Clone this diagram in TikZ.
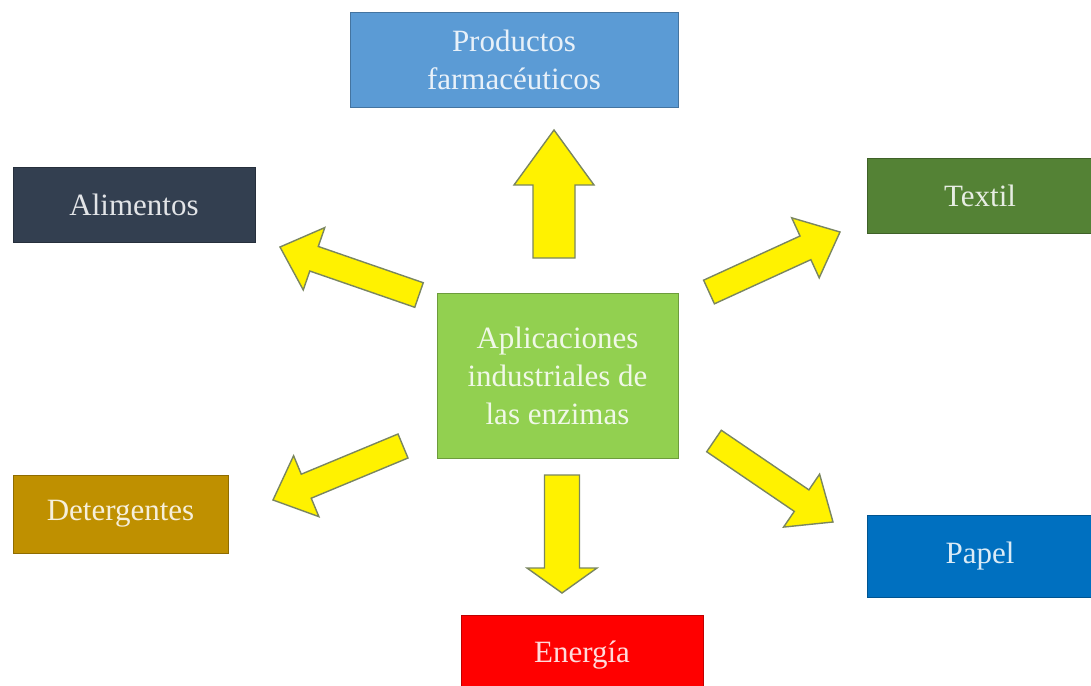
\documentclass[tikz,border=0pt]{standalone}
\usepackage{fontspec}
\setmainfont{Liberation Serif}
\usetikzlibrary{calc}
\definecolor{farmablue}{HTML}{5B9BD5}
\definecolor{alimnavy}{HTML}{333F50}
\definecolor{textilgreen}{HTML}{548235}
\definecolor{centergreen}{HTML}{92D050}
\definecolor{detergold}{HTML}{BF9000}
\definecolor{papelblue}{HTML}{0070C0}
\definecolor{energiared}{HTML}{FF0000}
\definecolor{arrowedge}{HTML}{7A8660}
\tikzset{
  box/.style={rectangle, fill=#1, draw=#1!75!black, line width=0.8pt,
    text=white!86!#1, align=center, inner sep=0pt,
    font=\fontsize{31}{38}\selectfont},
  yarrow/.style={fill=yellow, draw=arrowedge, line width=1.4pt, line join=miter}
}
% block arrow: (tail)(tip)(half shaft:half head:head length)
\def\blockarrow(#1)(#2)(#3:#4:#5){%
  \coordinate (hb) at ($(#2)!#5!(#1)$);
  \draw[yarrow] ($(#1)!#3!90:(#2)$) -- ($(hb)!#3!90:(#2)$) -- ($(hb)!#4!90:(#2)$)
    -- (#2) -- ($(hb)!#4!-90:(#2)$) -- ($(hb)!#3!-90:(#2)$) -- ($(#1)!#3!-90:(#2)$) -- cycle;}
\begin{document}
\begin{tikzpicture}[x=1pt, y=-1pt]
		\useasboundingbox[fill=white] (0,0) rectangle (1091,685);
		
		%%%%% boxes %%%%%
		\node[box=farmablue, minimum width=328pt, minimum height=95pt] (farma) at (514,59.5) {Productos\\farmacéuticos};
		\node[box=alimnavy, minimum width=242pt, minimum height=75pt] (alim) at (134,204.5) {Alimentos};
		\node[box=textilgreen, minimum width=226pt, minimum height=75pt] (textil) at (980,196) {Textil};
		\node[box=centergreen, minimum width=241pt, minimum height=165pt] (apps) at (557.5,375.5) {Aplicaciones\\industriales de\\las enzimas};
		\node[box=detergold, minimum width=215pt, minimum height=78pt] (deter) at (120.5,514) {Detergentes};
		\node[box=papelblue, minimum width=226pt, minimum height=82pt] (papel) at (980,556) {Papel};
		\node[box=energiared, minimum width=242pt, minimum height=80pt] (energia) at (582,655) {Energía};
		
		%%%%% arrow ends %%%%%
		\coordinate (farmaTail) at (554,258);   \coordinate (farmaTip) at (554,130);
		\coordinate (alimTail) at (419,295);    \coordinate (alimTip) at (280,247);
		\coordinate (textilTail) at (709,292);  \coordinate (textilTip) at (840,232);
		\coordinate (deterTail) at (403,446);   \coordinate (deterTip) at (273,500);
		\coordinate (papelTail) at (714,441);   \coordinate (papelTip) at (833,522);
		\coordinate (energiaTail) at (562,475); \coordinate (energiaTip) at (562,593);
		
		%%%%% arrows %%%%%
		\blockarrow(farmaTail)(farmaTip)(21pt:40pt:55pt)
		\blockarrow(alimTail)(alimTip)(13pt:33pt:36pt)
		\blockarrow(textilTail)(textilTip)(13pt:33pt:38pt)
		\blockarrow(deterTail)(deterTip)(13pt:33pt:36pt)
		\blockarrow(papelTail)(papelTip)(13pt:32pt:38pt)
		\blockarrow(energiaTail)(energiaTip)(17.5pt:35pt:25pt)
	\end{tikzpicture}
\end{document}
